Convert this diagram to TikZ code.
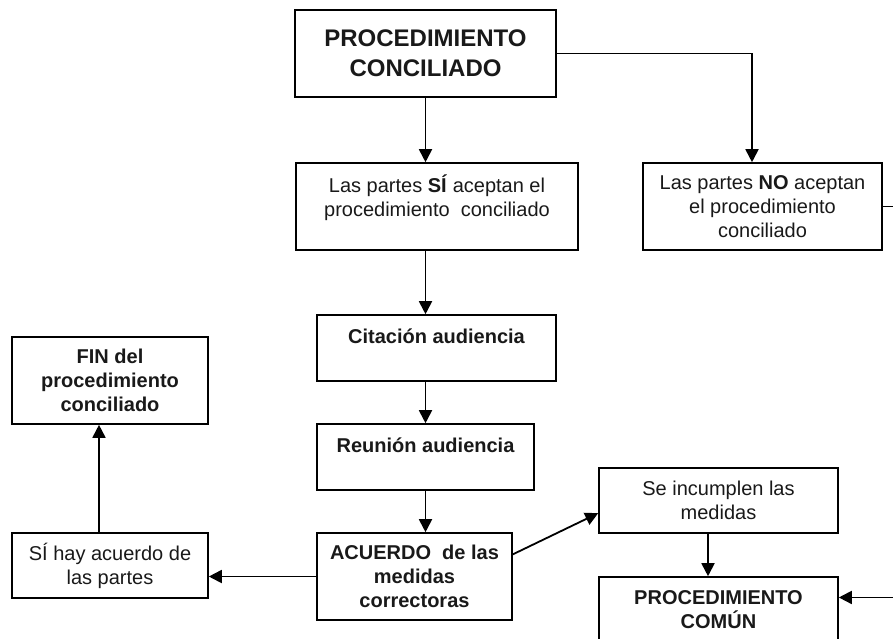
\documentclass[tikz,border=0pt]{standalone}
\usepackage{fontspec}
\setmainfont{Liberation Sans}
\usetikzlibrary{arrows.meta,positioning,calc}

\begin{document}
\begin{tikzpicture}
[x=.5pt,y=-.5pt,
    box/.style={draw,line width=.8pt,shape=rectangle,inner sep=0pt,align=center,
    text=black!90,font=\fontsize{10}{12}\selectfont},
    bbox/.style={box,font=\fontsize{10}{12}\selectfont\bfseries},
    tbox/.style={box,font=\fontsize{12}{15}\selectfont\bfseries},
    lift/.style={text depth=#1},
myedge/.style={-{Triangle[length=6.5pt,width=6.5pt]},line width=.9pt}]
%%%%%%%%%%
\useasboundingbox (0,0) rectangle (893,638);
\clip (0,0) rectangle (893,638);
%% nodes
\node (pc) [tbox,minimum width=130.5pt,minimum height=43.5pt] at (425.5,53.5) {PROCEDIMIENTO\\CONCILIADO};
\node (si) [box,lift=11pt,minimum width=141pt,minimum height=43.5pt] at (437,206.5) {Las partes \textbf{SÍ} aceptan el\\procedimiento~ conciliado};
\node (no) [box,minimum width=119.5pt,minimum height=43.5pt] at (762.5,206.5) {Las partes \textbf{NO} aceptan\\el procedimiento\\conciliado};
\node (cit) [bbox,lift=12pt,minimum width=119.5pt,minimum height=33pt] at (436.5,348) {Citación audiencia};
\node (reu) [bbox,lift=12pt,minimum width=108.5pt,minimum height=33pt] at (425.5,457) {Reunión audiencia};
\node (acu) [bbox,minimum width=97.5pt,minimum height=43.5pt] at (414.5,576.5) {ACUERDO~ de las\\medidas\\correctoras};
\node (fin) [bbox,minimum width=98pt,minimum height=43.5pt] at (110,380.5) {FIN del\\procedimiento\\conciliado};
\node (sih) [box,minimum width=98pt,minimum height=32.5pt] at (110,565.5) {SÍ hay acuerdo de\\las partes};
\node (inc) [box,minimum width=119.5pt,minimum height=32.5pt] at (718.5,500.5) {Se incumplen las\\medidas};
\node (com) [bbox,lift=11pt,minimum width=119.5pt,minimum height=43.5pt] at (718.5,620.5) {PROCEDIMIENTO\\COMÚN};
%% bends
\coordinate (k1) at (752,0);
\coordinate (k2) at (99,0);
\coordinate (k3) at (708,0);
\coordinate (k4) at (910,400);
%% edges
\draw[myedge] (pc) -- (pc |- si.north);
\draw[myedge] (pc.east) -| (no.north -| k1);
\draw[myedge] (si.south -| pc) -- (cit.north -| pc);
\draw[myedge] (cit.south -| pc) -- (reu.north -| pc);
\draw[myedge] (reu) -- (reu |- acu.north);
\draw[myedge] (acu) -- (acu -| sih.east);
\draw[myedge] (sih.north -| k2) -- (fin.south -| k2);
\draw[myedge] ($(acu.north east)!.25!(acu.south east)$) -- ($(inc.north west)!.69!(inc.south west)$);
\draw[myedge] (inc.south -| k3) -- (com.north -| k3);
\draw[myedge] (no.east) -| (k4) |- ($(com.north east)!.24!(com.south east)$);
\end{tikzpicture}
\end{document}
